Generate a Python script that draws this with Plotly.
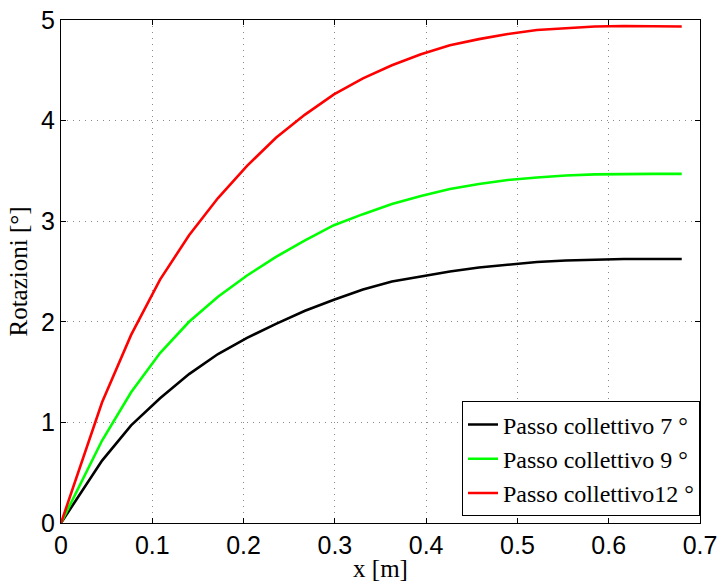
import plotly.graph_objects as go

x_m = [0, 0.045, 0.0768, 0.1085, 0.1403, 0.172, 0.2038, 0.2355, 0.2673, 0.299,
       0.3308, 0.3625, 0.3943, 0.426, 0.4578, 0.4895, 0.5213, 0.553, 0.5848,
       0.6165, 0.6483, 0.68]

rot_7 = [0, 0.62, 0.97, 1.24, 1.48, 1.68, 1.84, 1.98, 2.11, 2.22,
         2.32, 2.40, 2.45, 2.50, 2.54, 2.57, 2.595, 2.61, 2.62,
         2.625, 2.625, 2.625]

rot_9 = [0, 0.82, 1.30, 1.69, 2.00, 2.25, 2.46, 2.645, 2.81, 2.96,
         3.07, 3.17, 3.25, 3.32, 3.37, 3.41, 3.435, 3.455, 3.465,
         3.47, 3.47, 3.47]

rot_12 = [0, 1.20, 1.87, 2.42, 2.86, 3.23, 3.55, 3.83, 4.06, 4.26,
          4.42, 4.55, 4.66, 4.75, 4.81, 4.86, 4.90, 4.92, 4.935,
          4.94, 4.94, 4.935]

series_names = ["Passo collettivo 7 °", "Passo collettivo 9 °", "Passo collettivo12 °"]
series_colors = ["#000000", "#00ff00", "#ff0000"]

x_ticks = [0, 0.1, 0.2, 0.3, 0.4, 0.5, 0.6, 0.7]
x_ticklabels = ["0", "0.1", "0.2", "0.3", "0.4", "0.5", "0.6", "0.7"]
y_ticks = [0, 1, 2, 3, 4, 5]
y_ticklabels = ["0", "1", "2", "3", "4", "5"]

SERIF = "Liberation Serif, Times New Roman, serif"
SANS = "Liberation Sans, Arial, sans-serif"

fig = go.Figure()
for ys, name, col in zip([rot_7, rot_9, rot_12], series_names, series_colors):
    fig.add_trace(go.Scatter(x=x_m, y=ys, mode="lines", name=name,
                             line=dict(color=col, width=2.6)))

axis_common = dict(
    showline=True, linecolor="black", linewidth=1, mirror="ticks",
    ticks="inside", ticklen=5, tickcolor="black", tickwidth=1,
    showgrid=True, gridcolor="#8a8a8a", griddash="1px,5px", gridwidth=1,
    zeroline=False, automargin=False,
    tickfont=dict(family=SANS, size=25, color="black"),
)

fig.update_xaxes(range=[0, 0.7], tickvals=x_ticks, ticktext=x_ticklabels,
                 title=dict(text="x [m]", standoff=4,
                            font=dict(family=SERIF, size=25, color="black")),
                 **axis_common)
fig.update_yaxes(range=[0, 5], tickvals=y_ticks, ticktext=y_ticklabels,
                 title=dict(text="Rotazioni [°]", standoff=6,
                            font=dict(family=SERIF, size=25, color="black")),
                 **axis_common)

fig.update_layout(
    width=720, height=582,
    margin=dict(l=61, r=20, t=20, b=59),
    plot_bgcolor="white", paper_bgcolor="white",
    legend=dict(x=1, y=0.013, xanchor="right", yanchor="bottom",
                bordercolor="black", borderwidth=1, bgcolor="white",
                font=dict(family=SERIF, size=24, color="black"),
                tracegroupgap=0),
    showlegend=True,
)

fig.write_html("out.html")
